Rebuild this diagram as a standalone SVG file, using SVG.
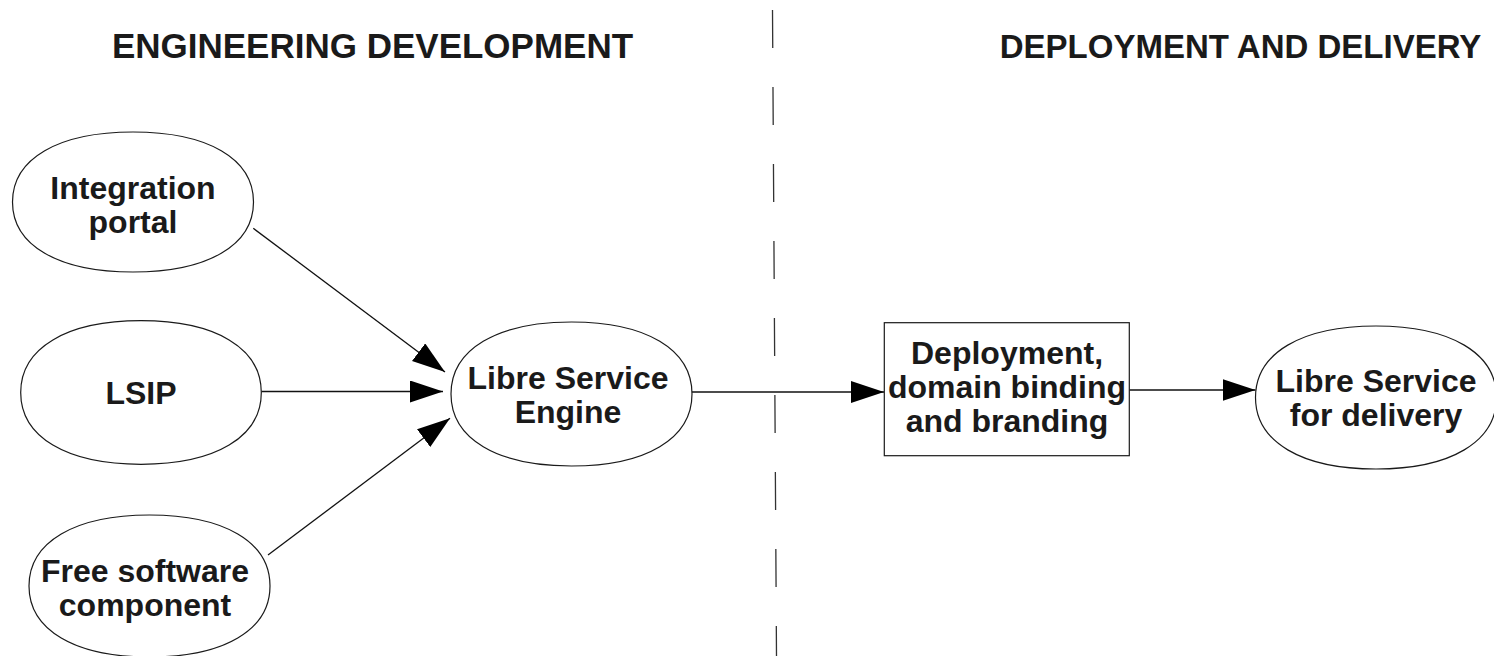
<svg xmlns="http://www.w3.org/2000/svg" width="1494" height="656" viewBox="0 0 1494 656">
<defs>
<style>
.shape{fill:#fff;stroke:#1a1a1a;stroke-width:1.2}
.lbl{font-family:"Liberation Sans",Arial,sans-serif;font-weight:bold;font-size:32px;fill:#1a1a1a;text-anchor:middle}
.hdr{font-family:"Liberation Sans",Arial,sans-serif;font-weight:bold;fill:#1a1a1a;text-anchor:middle}
.conn{stroke:#111;stroke-width:1.3;fill:none;marker-end:url(#arr)}
.divider{stroke:#333;stroke-width:1.3;stroke-dasharray:38 39;fill:none}
</style>
<marker id="arr" markerUnits="userSpaceOnUse" markerWidth="34" markerHeight="23" refX="33" refY="11" orient="auto">
<path d="M0,0 L33,11 L0,22 Z" fill="#000"/>
</marker>
</defs>
<rect width="1494" height="656" fill="#fff"/>
<g id="headers">
<text class="hdr" x="372.5" y="58" font-size="35">ENGINEERING DEVELOPMENT</text>
<text class="hdr" x="1240.5" y="58" font-size="33">DEPLOYMENT AND DELIVERY</text>
</g>
<line class="divider" x1="772.5" y1="10" x2="776.5" y2="656"/>
<g id="connectors">
<line class="conn" x1="253.3" y1="228.3" x2="445" y2="372"/>
<line class="conn" x1="261.3" y1="391.5" x2="443" y2="391.5"/>
<line class="conn" x1="268" y1="555" x2="450" y2="418.3"/>
<line class="conn" x1="692" y1="392" x2="884" y2="392"/>
<line class="conn" x1="1129.3" y1="390" x2="1255.5" y2="390"/>
</g>
<g id="integration-portal">
<path class="shape" d="M12.5,202 C12.5,158.6 58.3,132 133,132 C207.7,132 253.5,158.6 253.5,202 C253.5,245.4 207.7,272 133,272 C58.3,272 12.5,245.4 12.5,202Z"/>
<text class="lbl" x="133" y="199">Integration</text>
<text class="lbl" x="133" y="233">portal</text>
</g>
<g id="lsip">
<path class="shape" d="M20.7,392.5 C20.7,348 66.4,320.7 141,320.7 C215.6,320.7 261.3,348 261.3,392.5 C261.3,437 215.6,464.3 141,464.3 C66.4,464.3 20.7,437 20.7,392.5Z"/>
<text class="lbl" x="141" y="404">LSIP</text>
</g>
<g id="free-software">
<path class="shape" d="M29,586 C29,542 74.8,515 149.5,515 C224.2,515 270,542 270,586 C270,630 224.2,657 149.5,657 C74.8,657 29,630 29,586Z"/>
<text class="lbl" x="145" y="582">Free software</text>
<text class="lbl" x="145" y="616">component</text>
</g>
<g id="engine">
<path class="shape" d="M451,394 C451,349.4 496.8,322 571.5,322 C646.2,322 692,349.4 692,394 C692,438.6 646.2,466 571.5,466 C496.8,466 451,438.6 451,394Z"/>
<text class="lbl" x="568" y="388.5">Libre Service</text>
<text class="lbl" x="568" y="422.5">Engine</text>
</g>
<g id="deployment">
<rect class="shape" x="884.3" y="322.7" width="245" height="133"/>
<text class="lbl" x="1007" y="363.5">Deployment,</text>
<text class="lbl" x="1007" y="398">domain binding</text>
<text class="lbl" x="1007" y="432">and branding</text>
</g>
<g id="delivery">
<path class="shape" d="M1255.5,397.5 C1255.5,353.2 1301.3,326 1376,326 C1450.7,326 1496.5,353.2 1496.5,397.5 C1496.5,441.8 1450.7,469 1376,469 C1301.3,469 1255.5,441.8 1255.5,397.5Z"/>
<text class="lbl" x="1376" y="392">Libre Service</text>
<text class="lbl" x="1376" y="426">for delivery</text>
</g>
</svg>
